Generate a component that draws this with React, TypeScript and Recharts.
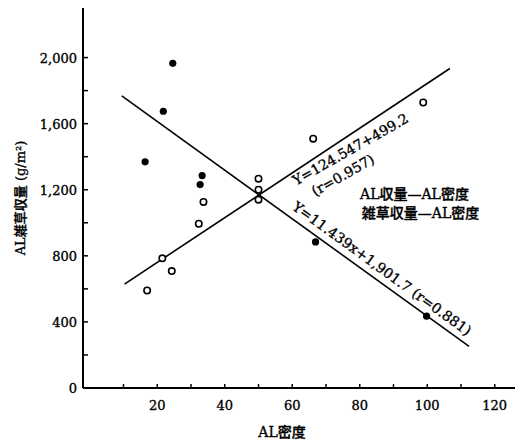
import React from 'react'
import {
  ScatterChart,
  Scatter,
  XAxis,
  YAxis,
  ReferenceLine,
  ReferenceDot
} from 'recharts'

// AL density (x) vs yield (y)
const alYieldPoints = [
  { x: 17, y: 590 },
  { x: 21.5, y: 785 },
  { x: 24.3, y: 708 },
  { x: 32.3, y: 994 },
  { x: 33.7, y: 1126 },
  { x: 50, y: 1267 },
  { x: 50, y: 1200 },
  { x: 50, y: 1140 },
  { x: 66.2, y: 1509 },
  { x: 98.8, y: 1728 }
]

const weedYieldPoints = [
  { x: 16.4, y: 1369 },
  { x: 21.8, y: 1675 },
  { x: 24.6, y: 1965 },
  { x: 33.3, y: 1286 },
  { x: 32.7, y: 1231 },
  { x: 66.9, y: 884 },
  { x: 99.8, y: 435 }
]

// regression lines as drawn
const alLine = [{ x: 10.3, y: 629 }, { x: 106.7, y: 1934 }]
const weedLine = [{ x: 9.5, y: 1768 }, { x: 112.4, y: 252 }]

const xTicks = [10, 20, 30, 40, 50, 60, 70, 80, 90, 100, 110, 120]
const yTicks = [0, 200, 400, 600, 800, 1000, 1200, 1400, 1600, 1800, 2000]

const annotations = [
  { x: 77.2, y: 1445, text: 'Y=124.547+499.2', angle: -29.5, anchor: 'middle' },
  { x: 75.0, y: 1289, text: '(r=0.957)', angle: -29.5, anchor: 'middle' },
  { x: 86.6, y: 724, text: 'Y=11.439x+1,901.7 (r=0.881)', angle: 36, anchor: 'middle' },
  { x: 80.1, y: 1177, text: 'AL収量—AL密度', angle: 0, anchor: 'start' },
  { x: 80.6, y: 1062, text: '雑草収量—AL密度', angle: 0, anchor: 'start' }
]

const FONT = "'DejaVu Serif', 'Noto Sans CJK JP', serif"

const fmt = (v: number) => v.toLocaleString('en-US')

// printed look: slightly heavier glyphs
const heavy = { stroke: '#000', strokeWidth: 0.35 }

const XTick = (props: any) => {
  const { x, y, payload } = props
  const v = payload.value
  return (
    <g>
      <line x1={x} y1={y} x2={x} y2={y - 4} stroke="#000" strokeWidth={1.5} />
      {v % 20 === 0 && (
        <text x={x} y={y + 22} textAnchor="middle" fontSize={13} fontFamily={FONT} fill="#000" {...heavy}>
          {v}
        </text>
      )}
    </g>
  )
}

const YTick = (props: any) => {
  const { x, y, payload } = props
  const v = payload.value
  return (
    <g>
      {v > 0 && <line x1={x} y1={y} x2={x + 5} y2={y} stroke="#000" strokeWidth={1.5} />}
      {v % 400 === 0 && (
        <text x={x - 6} y={y + 5} textAnchor="end" fontSize={13} fontFamily={FONT} fill="#000" {...heavy}>
          {fmt(v)}
        </text>
      )}
    </g>
  )
}

const filledDot = (props: any) => (
  <circle cx={props.cx} cy={props.cy} r={3.6} fill="#000" />
)

const openDot = (props: any) => (
  <circle cx={props.cx} cy={props.cy} r={3.2} fill="#fff" stroke="#000" strokeWidth={1.6} />
)

const YLabel = (props: any) => {
  const { viewBox } = props
  const cx = 20
  const cy = viewBox.y + viewBox.height / 2
  return (
    <text
      x={cx}
      y={cy}
      transform={`rotate(-90, ${cx}, ${cy})`}
      textAnchor="middle"
      dominantBaseline="central"
      fontSize={13}
      fontFamily={FONT}
      fontWeight={500}
      fill="#000"
      {...heavy}
    >
      AL雑草収量 (g/m²)
    </text>
  )
}

export default function App() {
  return (
    <div style={{ position: 'absolute', left: 0, top: 0, background: '#fff' }}>
      <ScatterChart
        width={521}
        height={445}
        margin={{ top: 8, right: 6, bottom: 0, left: 0 }}
      >
        <XAxis
          type="number"
          dataKey="x"
          domain={[-2, 126]}
          ticks={xTicks}
          tick={<XTick />}
          tickLine={false}
          tickSize={0}
          tickMargin={0}
          height={57}
          axisLine={{ stroke: '#000', strokeWidth: 2 }}
          allowDataOverflow
          label={{
            value: 'AL密度',
            position: 'insideBottom',
            offset: 8,
            dx: -17,
            fontSize: 14,
            fontFamily: FONT,
            fontWeight: 500,
            fill: '#000',
            stroke: '#000',
            strokeWidth: 0.35
          }}
        />
        <YAxis
          type="number"
          dataKey="y"
          domain={[0, 2300]}
          ticks={yTicks}
          tick={<YTick />}
          tickLine={false}
          tickSize={0}
          tickMargin={0}
          width={83}
          axisLine={{ stroke: '#000', strokeWidth: 2 }}
          allowDataOverflow
          label={{ content: <YLabel /> }}
        />
        <ReferenceLine segment={alLine} stroke="#000" strokeWidth={1.6} ifOverflow="visible" />
        <ReferenceLine segment={weedLine} stroke="#000" strokeWidth={1.6} ifOverflow="visible" />
        <Scatter data={weedYieldPoints} shape={filledDot} isAnimationActive={false} />
        <Scatter data={alYieldPoints} shape={openDot} isAnimationActive={false} />
        {annotations.map((a, i) => (
          <ReferenceDot
            key={i}
            x={a.x}
            y={a.y}
            r={0}
            ifOverflow="visible"
            label={(p: any) => {
              const vb = p.viewBox
              const cx = vb.x + vb.width / 2
              const cy = vb.y + vb.height / 2
              return (
                <text
                  x={cx}
                  y={cy}
                  transform={`rotate(${a.angle}, ${cx}, ${cy})`}
                  textAnchor={a.anchor}
                  dominantBaseline="central"
                  fontSize={14}
                  fontFamily={FONT}
                  fontWeight={500}
                  fill="#000"
                  {...heavy}
                >
                  {a.text}
                </text>
              )
            }}
          />
        ))}
      </ScatterChart>
    </div>
  )
}
